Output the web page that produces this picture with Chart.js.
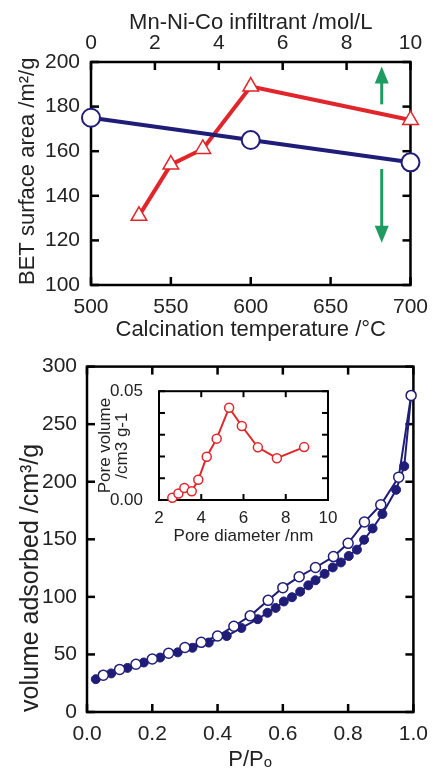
<!DOCTYPE html>
<html>
<head>
<meta charset="utf-8">
<script src="https://cdn.jsdelivr.net/npm/chart.js@4.4.0/dist/chart.umd.min.js"></script>
<style>
  body { margin: 0; background: #fff; }
  #wrap { position: relative; width: 438px; height: 769px; overflow: hidden; }
  canvas { position: absolute; }
</style>
</head>
<body>
<div id="wrap">
  <canvas id="bet" width="438" height="345" style="left:0;top:0"></canvas>
  <canvas id="iso" width="438" height="434" style="left:0;top:344px"></canvas>
  <canvas id="psd" width="290" height="185" style="left:60px;top:365px"></canvas>
</div>
<script>
// top panel: BET surface area
const temperature = [500, 600, 700];
const betByTemperature = [175, 165, 155];
const infiltrant = [1.5, 2.5, 3.5, 5, 10];
const betByInfiltrant = [131, 154, 161, 189, 174];
const arrowAt = 682;          // on the temperature axis
const arrowUp = [181, 198];   // from, to (m2/g)
const arrowDown = [152, 119];

// bottom panel: N2 isotherm
const pDes = [0.05, 0.10, 0.15, 0.20, 0.25, 0.30, 0.35, 0.40, 0.45, 0.50, 0.555, 0.60, 0.65, 0.70, 0.755, 0.80, 0.85, 0.90, 0.955, 0.993];
const vDes = [32, 37, 41.5, 46, 51, 56, 60.5, 66, 74.5, 83.5, 97, 108, 117.5, 125.5, 135, 146.5, 165, 180, 204, 275];
const pAds = [0.027, 0.074, 0.124, 0.174, 0.224, 0.278, 0.323, 0.373, 0.428, 0.473, 0.523, 0.553, 0.578, 0.603, 0.628, 0.653, 0.678, 0.70, 0.728, 0.753, 0.778, 0.802, 0.827, 0.849, 0.875, 0.905, 0.947, 0.972, 0.993];
const vAds = [28.5, 33.5, 38.3, 43, 47.3, 51.8, 55.8, 60.3, 66, 73, 80.6, 86.2, 90.4, 96, 99.7, 104.5, 110, 114.4, 120, 125.6, 129.9, 135.5, 141, 149.6, 159.4, 172, 193, 213.5, 275];

// inset: pore size distribution
const poreDiameter = [2.63, 2.92, 3.2, 3.55, 3.86, 4.26, 4.73, 5.32, 5.92, 6.68, 7.58, 8.87];
const poreVolume = [0.001, 0.003, 0.0055, 0.004, 0.0093, 0.0199, 0.0282, 0.0424, 0.034, 0.0242, 0.0192, 0.0243];

Chart.defaults.font.family = '"Liberation Sans", Arial, sans-serif';
Chart.defaults.color = '#222';
Chart.defaults.animation = false;
Chart.defaults.plugins.legend.display = false;
Chart.defaults.plugins.tooltip.enabled = false;

const navy = '#1f1d78';
const red = '#e0262a';

const pts = (xs, ys) => xs.map((x, i) => ({x: x, y: ys[i]}));

// box around the plot area with inward ticks
const frame = {
  id: 'frame',
  beforeDatasetsDraw(chart, args, opts) {
    const {ctx, chartArea: a} = chart;
    const len = opts.len || 8;
    ctx.save();
    ctx.strokeStyle = '#000';
    ctx.lineWidth = opts.width || 2.5;
    ctx.strokeRect(a.left, a.top, a.right - a.left, a.bottom - a.top);
    Object.keys(opts.sides || {}).forEach(id => {
      const s = chart.scales[id];
      s.ticks.forEach((t, i) => {
        const p = s.getPixelForTick(i);
        opts.sides[id].forEach(side => {
          ctx.beginPath();
          if (side === 'bottom') { ctx.moveTo(p, a.bottom); ctx.lineTo(p, a.bottom - len); }
          if (side === 'top') { ctx.moveTo(p, a.top); ctx.lineTo(p, a.top + len); }
          if (side === 'left') { ctx.moveTo(a.left, p); ctx.lineTo(a.left + len, p); }
          if (side === 'right') { ctx.moveTo(a.right, p); ctx.lineTo(a.right - len, p); }
          ctx.stroke();
        });
      });
    });
    ctx.restore();
  }
};

const arrows = {
  id: 'arrows',
  afterDatasetsDraw(chart) {
    const {ctx, scales: {x, y}} = chart;
    const px = x.getPixelForValue(arrowAt);
    [arrowUp, arrowDown].forEach(([from, to]) => {
      const y0 = y.getPixelForValue(from), y1 = y.getPixelForValue(to);
      const dir = Math.sign(y1 - y0);
      ctx.save();
      ctx.strokeStyle = ctx.fillStyle = '#1f9a60';
      ctx.lineWidth = 3;
      ctx.beginPath();
      ctx.moveTo(px, y0);
      ctx.lineTo(px, y1 - dir * 14);
      ctx.stroke();
      ctx.beginPath();
      ctx.moveTo(px, y1);
      ctx.lineTo(px - 7, y1 - dir * 17);
      ctx.lineTo(px + 7, y1 - dir * 17);
      ctx.closePath();
      ctx.fill();
      ctx.restore();
    });
  }
};

const noGrid = {display: false, drawTicks: false};
const noBorder = {display: false};

new Chart(document.getElementById('bet'), {
  type: 'line',
  data: {
    datasets: [{
      data: pts(temperature, betByTemperature),
      xAxisID: 'x',
      borderColor: navy,
      borderWidth: 4,
      pointRadius: 9,
      pointBorderWidth: 2,
      pointBackgroundColor: '#fff',
      pointBorderColor: navy,
      clip: false
    }, {
      data: pts(infiltrant, betByInfiltrant),
      xAxisID: 'x2',
      borderColor: red,
      borderWidth: 4,
      pointStyle: 'triangle',
      pointRadius: 9,
      pointBorderWidth: 1.5,
      pointBackgroundColor: '#fff',
      pointBorderColor: red,
      clip: false
    }]
  },
  options: {
    responsive: false,
    layout: {padding: {left: 0, right: 20, top: 0, bottom: 0}},
    scales: {
      x: {
        type: 'linear', position: 'bottom', min: 500, max: 700,
        grid: noGrid, border: noBorder,
        ticks: {stepSize: 50, padding: 10, font: {size: 21}},
        title: {display: true, text: 'Calcination temperature /°C', font: {size: 22}, padding: {top: 0, bottom: 2}},
        afterFit: s => { s.height = 60; }
      },
      x2: {
        type: 'linear', position: 'top', min: 0, max: 10,
        grid: noGrid, border: noBorder,
        ticks: {stepSize: 2, padding: 6, font: {size: 21}},
        title: {display: true, text: 'Mn-Ni-Co infiltrant /mol/L', font: {size: 22}, padding: {top: 10, bottom: 0}},
        afterFit: s => { s.height = 62; }
      },
      y: {
        min: 100, max: 200,
        grid: noGrid, border: noBorder,
        ticks: {stepSize: 20, padding: 11, font: {size: 21}},
        title: {display: true, text: 'BET surface area /m²/g', align: 'start', font: {size: 22}, padding: {top: 15, bottom: 0}},
        afterFit: s => { s.width = 91; }
      }
    },
    plugins: {
      frame: {sides: {x: ['bottom'], x2: ['top'], y: ['left', 'right']}, width: 2.5, len: 8}
    }
  },
  plugins: [frame, arrows]
});

new Chart(document.getElementById('iso'), {
  type: 'line',
  data: {
    datasets: [{
      label: 'desorption',
      data: pts(pDes, vDes),
      borderColor: navy,
      borderWidth: 2,
      pointRadius: 5,
      pointBorderWidth: 1.5,
      pointBackgroundColor: '#fff',
      pointBorderColor: navy,
      clip: false
    }, {
      label: 'adsorption',
      data: pts(pAds, vAds),
      borderColor: navy,
      borderWidth: 2,
      pointRadius: 4.5,
      pointBorderWidth: 1,
      pointBackgroundColor: navy,
      pointBorderColor: navy,
      clip: false
    }]
  },
  options: {
    responsive: false,
    layout: {padding: {left: 0, right: 17, top: 13, bottom: 0}},
    scales: {
      x: {
        type: 'linear', min: 0, max: 1,
        grid: noGrid, border: noBorder,
        ticks: {stepSize: 0.2, padding: 10, font: {size: 21}, callback: v => v.toFixed(1)},
        title: {display: true, text: 'P/Pₒ', font: {size: 22}, padding: {top: 0, bottom: 5}},
        afterFit: s => { s.height = 66; }
      },
      y: {
        min: 0, max: 300,
        grid: noGrid, border: noBorder,
        ticks: {stepSize: 50, padding: 10, font: {size: 21}},
        title: {display: true, text: 'volume adsorbed /cm³/g', align: 'start', font: {size: 25}, padding: {top: 16, bottom: 0}},
        afterFit: s => { s.width = 87; }
      }
    },
    plugins: {
      frame: {sides: {x: ['bottom', 'top'], y: ['left', 'right']}, width: 2.5, len: 8}
    }
  },
  plugins: [frame]
});

new Chart(document.getElementById('psd'), {
  type: 'line',
  data: {
    datasets: [{
      data: pts(poreDiameter, poreVolume),
      borderColor: red,
      borderWidth: 2,
      pointRadius: 4.5,
      pointBorderWidth: 1.5,
      pointBackgroundColor: '#fff',
      pointBorderColor: red,
      clip: false
    }]
  },
  options: {
    responsive: false,
    layout: {padding: {left: 0, right: 22, top: 15, bottom: 0}},
    scales: {
      x: {
        type: 'linear', min: 2, max: 10,
        grid: noGrid, border: noBorder,
        ticks: {stepSize: 2, padding: 8, font: {size: 17}},
        title: {display: true, text: 'Pore diameter /nm', font: {size: 17}, padding: {top: 0, bottom: 3}},
        afterFit: s => { s.height = 50; }
      },
      y: {
        min: 0, max: 0.05,
        grid: noGrid, border: noBorder,
        ticks: {stepSize: 0.01, padding: 16, font: {size: 17}, autoSkip: false,
          callback: v => (Math.abs(v) < 1e-9 || Math.abs(v - 0.05) < 1e-9) ? v.toFixed(2) : ''},
        title: {display: true, text: ['Pore volume', '/cm3 g-1'], font: {size: 17, lineHeight: 1.0}, padding: {top: 37, bottom: 0}},
        afterFit: s => { s.width = 99; }
      }
    },
    plugins: {
      frame: {sides: {x: ['bottom', 'top'], y: ['left', 'right']}, width: 2, len: 6}
    }
  },
  plugins: [frame]
});
</script>
</body>
</html>
